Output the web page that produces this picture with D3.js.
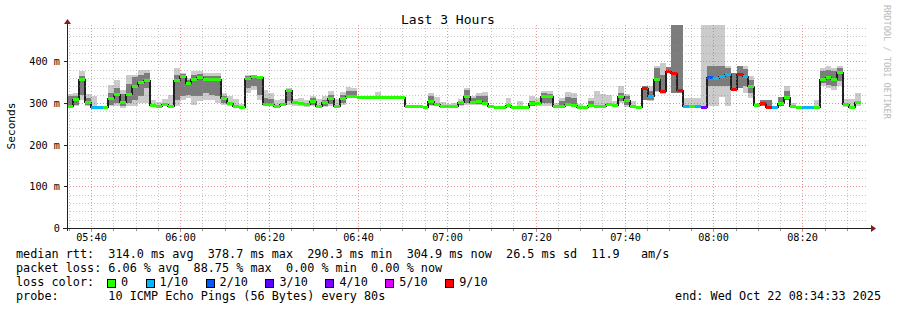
<!DOCTYPE html>
<html>
<head>
<meta charset="utf-8">
<script src="https://cdn.jsdelivr.net/npm/d3@7"></script>
<style>
  body { margin: 0; background: #fff; }
  text { font-family: "DejaVu Sans Mono", monospace; white-space: pre; }
</style>
</head>
<body>
<svg id="chart" width="897" height="310"></svg>
<script>
// one value per 80 s step, ms
const medians = [
  292, 310, 358, 302, 290, 290, 290, 312, 322, 303,
  322, 341, 351, 354, 295, 292, 297, 293, 354, 366,
  348, 358, 363, 358, 358, 358, 311, 300, 294, 291,
  359, 364, 362, 297, 298, 293, 297, 331, 302, 300,
  297, 304, 294, 302, 311, 294, 313, 318, 316, 314,
  314, 314, 314, 314, 314, 314, 314, 292, 292, 292,
  290, 304, 298, 294, 294, 293, 303, 318, 302, 305,
  301, 292, 290, 291, 296, 290, 290, 290, 301, 301,
  317, 316, 294, 292, 298, 296, 291, 290, 296, 294,
  294, 298, 296, 316, 308, 294, 290, 336, 316, 358,
  330, 378, 372, 332, 294, 292, 292, 290, 362, 359,
  364, 369, 334, 369, 364, 341, 296, 299, 291, 290,
  299, 314, 294, 290, 290, 290, 290, 358, 363, 358,
  375, 297, 290, 303
];
// lost pings out of 10
const losses = [
  0, 0, 0, 0, 1, 1, 0, 0, 0, 0,
  0, 0, 0, 0, 0, 0, 0, 0, 0, 0,
  0, 0, 0, 0, 0, 0, 0, 0, 0, 0,
  0, 0, 0, 0, 0, 0, 0, 0, 0, 0,
  0, 0, 0, 0, 0, 0, 0, 0, 0, 0,
  0, 0, 0, 0, 0, 0, 0, 0, 0, 0,
  0, 0, 0, 0, 0, 0, 0, 0, 0, 0,
  0, 0, 0, 0, 0, 0, 0, 0, 0, 0,
  0, 0, 0, 0, 0, 0, 0, 0, 0, 0,
  0, 0, 0, 0, 0, 0, 0, 9, 1, 0,
  9, 9, 9, 9, 1, 0, 1, 4, 2, 1,
  1, 1, 9, 9, 1, 0, 0, 9, 9, 1,
  0, 0, 0, 0, 1, 1, 0, 0, 0, 0,
  0, 0, 0, 0
];
// outer smoke (fastest / slowest ping)
const smokeLo = [
  289, 292, 308, 292, 288, 290, 290, 292, 292, 288,
  292, 294, 300, 300, 290, 290, 292, 292, 294, 308,
  312, 296, 304, 308, 308, 300, 296, 292, 290, 289,
  324, 332, 308, 292, 292, 292, 292, 296, 294, 292,
  290, 292, 288, 290, 294, 288, 296, 312, 312, 312,
  312, 312, 312, 312, 312, 312, 312, 290, 290, 290,
  288, 292, 292, 292, 292, 290, 294, 296, 296, 296,
  296, 290, 288, 289, 292, 288, 288, 288, 292, 294,
  292, 294, 292, 290, 292, 292, 290, 289, 292, 290,
  290, 292, 290, 300, 290, 290, 289, 307, 304, 326,
  322, 374, 324, 324, 290, 290, 290, 288, 292, 294,
  314, 294, 332, 336, 324, 312, 290, 294, 290, 289,
  294, 308, 290, 289, 289, 289, 290, 340, 336, 332,
  340, 290, 289, 294
];
const smokeHi = [
  321, 324, 376, 322, 318, 290, 290, 344, 356, 332,
  368, 368, 380, 380, 308, 302, 310, 320, 384, 372,
  360, 376, 376, 372, 372, 372, 324, 316, 310, 298,
  368, 368, 366, 332, 324, 308, 310, 336, 310, 312,
  308, 318, 310, 316, 328, 310, 326, 338, 336, 318,
  318, 318, 326, 318, 316, 318, 316, 294, 294, 294,
  292, 324, 314, 302, 298, 300, 310, 336, 316, 324,
  326, 294, 292, 294, 312, 294, 306, 294, 318, 312,
  328, 330, 300, 312, 326, 324, 298, 294, 312, 330,
  322, 320, 304, 342, 322, 304, 292, 340, 340, 390,
  396, 386, 500, 500, 312, 312, 312, 500, 500, 500,
  500, 390, 372, 388, 388, 364, 300, 308, 308, 292,
  314, 340, 300, 292, 292, 292, 308, 384, 388, 384,
  388, 310, 310, 324
];
// inner smoke (middle pings), null where there is none
const coreLo = [
  291, 296, 320, 296, null, null, null, 296, 300, 294,
  300, 308, 316, 336, null, null, null, null, 308, 318,
  320, 316, 316, 324, 320, 316, 300, null, null, null,
  336, 340, 320, 294, 294, null, null, 304, null, null,
  null, 296, null, 294, 298, null, 300, 314, 314, null,
  null, null, null, null, null, null, null, null, null, null,
  null, 296, null, null, null, null, 296, 300, 298, 298,
  298, null, null, null, null, null, null, null, 294, null,
  300, 300, null, 291, 294, 294, null, null, 294, null,
  null, null, null, 304, 296, null, null, 307, 308, 330,
  328, 374, 324, 324, null, null, null, null, 340, 340,
  340, 340, 332, 336, 340, 324, null, 294, 290, null,
  294, 308, null, null, null, null, null, 348, 344, 340,
  352, null, null, null
];
const coreHi = [
  316, 318, 366, 312, null, null, null, 324, 336, 322,
  346, 362, 368, 372, null, null, null, null, 368, 370,
  356, 368, 370, 366, 364, 364, 318, null, null, null,
  364, 366, 364, 312, 310, null, null, 334, null, null,
  null, 312, null, 308, 320, null, 320, 330, 328, null,
  null, null, null, null, null, null, null, null, null, null,
  null, 316, null, null, null, null, 306, 332, 312, 316,
  318, null, null, null, null, null, null, null, 306, null,
  324, 322, null, 304, 314, 312, null, null, 306, null,
  null, null, null, 324, 316, null, null, 340, 328, 384,
  368, 386, 500, 500, null, null, null, null, 388, 388,
  388, 384, 372, 388, 382, 356, null, 308, 308, null,
  314, 328, null, null, null, null, null, 376, 380, 376,
  384, null, null, null
];

const lossKeys = [0, 1, 2, 3, 4, 5, 9];
const lossLabels = ['0', '1/10', '2/10', '3/10', '4/10', '5/10', '9/10'];
const lossColors = ['#26ff00', '#00b8ff', '#0059ff', '#5e00ff', '#7e00ff', '#dd00ff', '#ff0000'];

const statLines = [
  'median rtt:  314.0 ms avg  378.7 ms max  290.3 ms min  304.9 ms now  26.5 ms sd  11.9   am/s',
  'packet loss: 6.06 % avg  88.75 % max  0.00 % min  0.00 % now'
];
const probeText = 'probe:       10 ICMP Echo Pings (56 Bytes) every 80s';
const endText = 'end: Wed Oct 22 08:34:33 2025';

const W = 897, H = 310;
const PL = 67, PR = 867, PT = 28, PB = 228;

const svg = d3.select('#chart');
svg.append('rect').attr('width', W).attr('height', H).attr('fill', '#fff');

const tStart = new Date(2025, 9, 22, 5, 34, 33);
const tEnd = new Date(2025, 9, 22, 8, 34, 33);
const STEP = 80 * 1000;

const x = d3.scaleTime().domain([tStart, tEnd]).range([PL, PR]);
const y = d3.scaleLinear().domain([0, 480]).range([PB, PT]);
const px = d => Math.round(x(d));
const py = v => Math.round(y(v));

const bins = medians.map((m, i) => ({
  t0: new Date(+tStart + i * STEP),
  t1: new Date(+tStart + (i + 1) * STEP),
  med: m,
  loss: losses[i],
  lo: smokeLo[i], hi: smokeHi[i],
  qlo: coreLo[i], qhi: coreHi[i]
}));

svg.append('clipPath').attr('id', 'plot')
  .append('rect').attr('x', PL).attr('y', PT - 3)
  .attr('width', PR - PL).attr('height', PB - PT + 3);

const g = svg.append('g').attr('clip-path', 'url(#plot)').attr('shape-rendering', 'crispEdges');

// smoke
g.selectAll('rect.smoke')
  .data(bins.filter(d => d.hi > d.lo))
  .enter().append('rect')
  .attr('class', 'smoke')
  .attr('x', d => px(d.t0))
  .attr('width', d => px(d.t1) - px(d.t0))
  .attr('y', d => py(d.hi))
  .attr('height', d => Math.max(1, py(d.lo) - py(d.hi)))
  .attr('fill', '#cbcbcb');

g.selectAll('rect.core')
  .data(bins.filter(d => d.qlo !== null))
  .enter().append('rect')
  .attr('class', 'core')
  .attr('x', d => px(d.t0))
  .attr('width', d => px(d.t1) - px(d.t0))
  .attr('y', d => py(d.qhi))
  .attr('height', d => Math.max(1, py(d.qlo) - py(d.qhi)))
  .attr('fill', '#7c7c7c');

// median step line
const pts = bins.map(d => [px(d.t0), py(d.med) + 0.5]);
pts.push([px(bins[bins.length - 1].t1), py(bins[bins.length - 1].med) + 0.5]);
g.append('path')
  .attr('d', d3.line().curve(d3.curveStepAfter)(pts))
  .attr('fill', 'none')
  .attr('stroke', '#202020')
  .attr('stroke-width', 1.2);

// loss coloured median marks
g.selectAll('rect.med')
  .data(bins)
  .enter().append('rect')
  .attr('class', 'med')
  .attr('x', d => px(d.t0))
  .attr('width', d => px(d.t1) - px(d.t0))
  .attr('y', d => py(d.med) - 1)
  .attr('height', 3)
  .attr('fill', d => lossColors[lossKeys.indexOf(d.loss)]);

// grid, drawn over the graph like rrdtool does
const grid = svg.append('g').attr('shape-rendering', 'crispEdges');
const minorV = d3.range(20, 481, 20).filter(v => v % 100 !== 0);
const majorV = d3.range(100, 481, 100);
const timeTicks = x.ticks(d3.timeMinute.every(5));
const isMajorT = t => t.getMinutes() % 20 === 0;

grid.selectAll('line.hmin').data(minorV).enter().append('line')
  .attr('x1', PL).attr('x2', PR)
  .attr('y1', d => py(d) + 0.5).attr('y2', d => py(d) + 0.5)
  .attr('stroke', 'rgba(143,143,143,0.5)').attr('stroke-dasharray', '1,2');
grid.selectAll('line.vmin').data(timeTicks.filter(t => !isMajorT(t))).enter().append('line')
  .attr('x1', d => px(d) + 0.5).attr('x2', d => px(d) + 0.5)
  .attr('y1', PT - 3).attr('y2', PB)
  .attr('stroke', 'rgba(143,143,143,0.5)').attr('stroke-dasharray', '1,2');
grid.selectAll('line.hmaj').data(majorV).enter().append('line')
  .attr('x1', PL).attr('x2', PR)
  .attr('y1', d => py(d) + 0.5).attr('y2', d => py(d) + 0.5)
  .attr('stroke', 'rgba(222,80,80,0.6)').attr('stroke-dasharray', '1,2');
grid.selectAll('line.vmaj').data(timeTicks.filter(isMajorT)).enter().append('line')
  .attr('x1', d => px(d) + 0.5).attr('x2', d => px(d) + 0.5)
  .attr('y1', PT - 3).attr('y2', PB)
  .attr('stroke', 'rgba(222,80,80,0.6)').attr('stroke-dasharray', '1,2');

// axes
const ax = svg.append('g').attr('shape-rendering', 'crispEdges');
ax.append('line').attr('x1', PL - 4).attr('x2', PR + 4)
  .attr('y1', PB + 0.5).attr('y2', PB + 0.5).attr('stroke', '#222');
ax.append('line').attr('x1', PL + 0.5).attr('x2', PL + 0.5)
  .attr('y1', PB + 3).attr('y2', PT - 4).attr('stroke', '#222');
ax.selectAll('line.xt').data(timeTicks).enter().append('line')
  .attr('x1', d => px(d) + 0.5).attr('x2', d => px(d) + 0.5)
  .attr('y1', PB + 1).attr('y2', d => PB + (isMajorT(d) ? 4 : 3))
  .attr('stroke', d => isMajorT(d) ? 'rgba(222,80,80,0.7)' : '#999');
ax.selectAll('line.yt').data([0].concat(majorV)).enter().append('line')
  .attr('x1', PL - 3).attr('x2', PL)
  .attr('y1', d => py(d) + 0.5).attr('y2', d => py(d) + 0.5)
  .attr('stroke', '#222');

svg.append('path')
  .attr('d', `M${PR + 4},${PB - 3}L${PR + 9},${PB + 0.5}L${PR + 4},${PB + 4}Z`)
  .attr('fill', '#8b1a1a');
svg.append('path')
  .attr('d', `M${PL - 3},${PT - 4}L${PL + 0.5},${PT - 9}L${PL + 4},${PT - 4}Z`)
  .attr('fill', '#8b1a1a');

// tick labels
svg.selectAll('text.yl').data([0].concat(majorV.filter(v => v < 480))).enter().append('text')
  .attr('x', 60).attr('y', d => py(d) + 4)
  .attr('text-anchor', 'end').attr('font-size', '10.2px').attr('fill', '#000')
  .text(d => d === 0 ? '0' : `${d} m`);
svg.selectAll('text.xl').data(timeTicks.filter(isMajorT)).enter().append('text')
  .attr('x', d => px(d) + 0.5).attr('y', 241)
  .attr('text-anchor', 'middle').attr('font-size', '10.2px').attr('fill', '#000')
  .text(d3.timeFormat('%H:%M'));

// title, unit, watermark
svg.append('text').attr('x', 448).attr('y', 24).attr('text-anchor', 'middle')
  .attr('font-size', '13px').text('Last 3 Hours');
svg.append('text').attr('transform', 'translate(15,126) rotate(-90)')
  .attr('text-anchor', 'middle').attr('font-size', '11.2px').text('Seconds');
svg.append('text').attr('transform', 'translate(884,5) rotate(90)')
  .attr('font-size', '8.6px').attr('fill', '#bbb').text('RRDTOOL / TOBI OETIKER');

// legend
const legend = svg.append('g').attr('font-size', '11.8px');
statLines.forEach((s, i) => {
  legend.append('text').attr('x', 16).attr('y', 258 + i * 14).text(s);
});
legend.append('text').attr('x', 16).attr('y', 286).text('loss color:');
let lx = 107.5;
lossLabels.forEach((lab, i) => {
  legend.append('rect').attr('x', lx).attr('y', 279.5).attr('width', 8).attr('height', 8)
    .attr('fill', lossColors[i]).attr('stroke', '#000').attr('shape-rendering', 'crispEdges');
  const t = legend.append('text').attr('x', lx + 13.5).attr('y', 286).text(lab);
  lx = lx + 13.5 + t.node().getComputedTextLength() + 18;
});
legend.append('text').attr('x', 16).attr('y', 300).text(probeText);
legend.append('text').attr('x', 881).attr('y', 300).attr('text-anchor', 'end').text(endText);
</script>
</body>
</html>
